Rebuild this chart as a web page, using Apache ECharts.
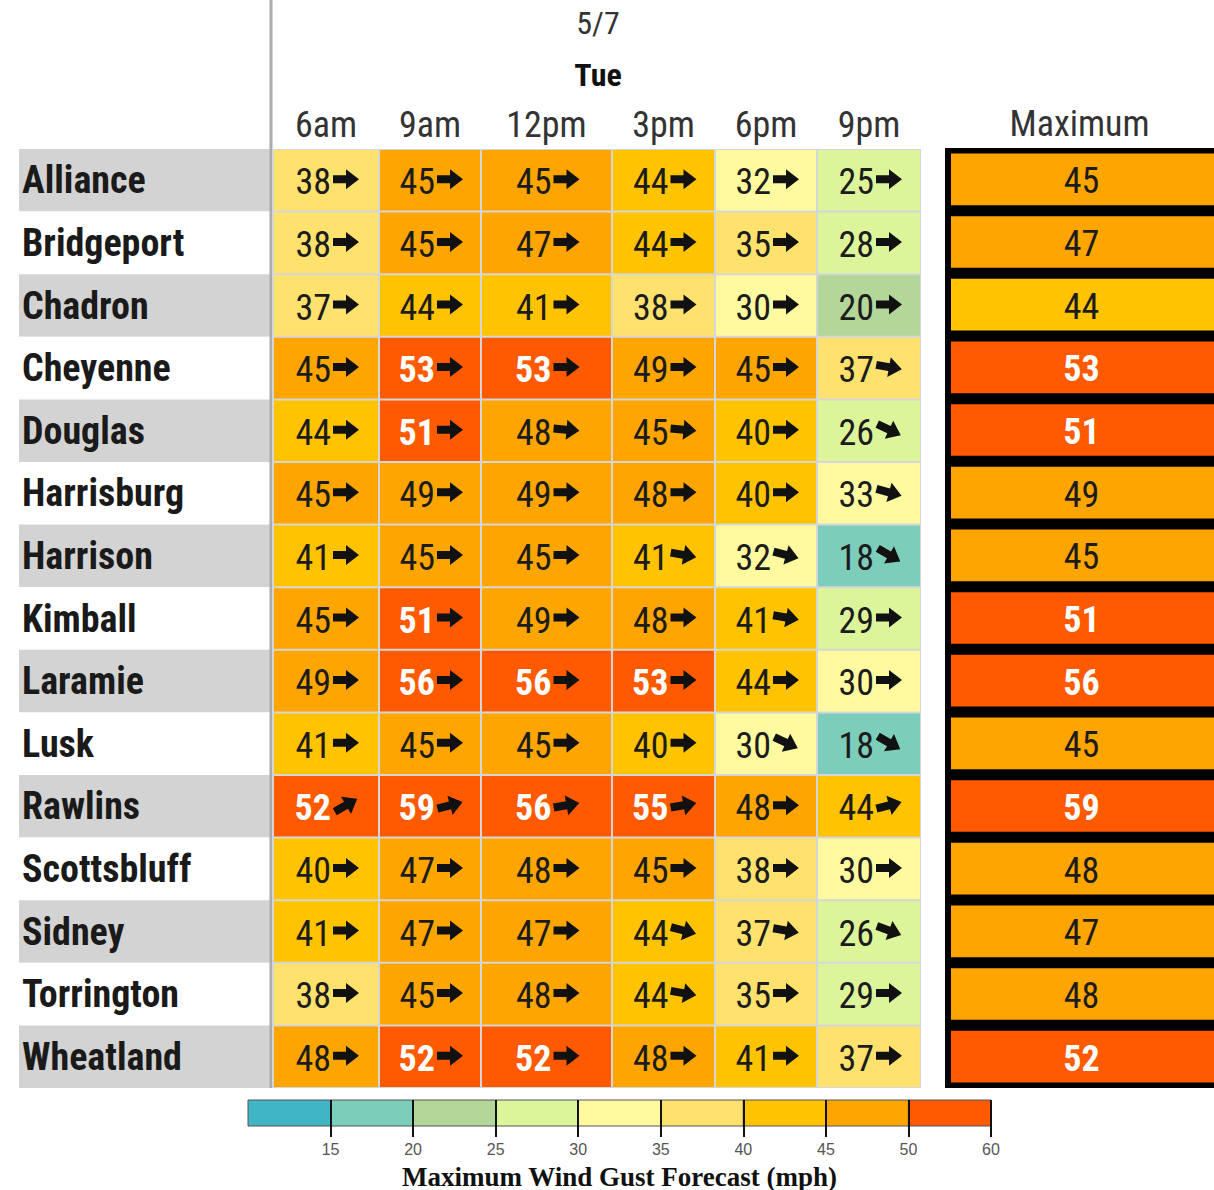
<!DOCTYPE html>
<html>
<head>
<meta charset="utf-8">
<script src="https://cdn.jsdelivr.net/npm/echarts@6/dist/echarts.min.js"></script>
<style>
html,body{margin:0;padding:0;background:#fff;}
#chart{width:1214px;height:1190px;}
</style>
</head>
<body>
<div id="chart"></div>
<script>
// ---------------- data ----------------
const cities = ['Alliance','Bridgeport','Chadron','Cheyenne','Douglas','Harrisburg','Harrison','Kimball','Laramie','Lusk','Rawlins','Scottsbluff','Sidney','Torrington','Wheatland'];
const times = ['6am','9am','12pm','3pm','6pm','9pm'];
const gust6am  = [38,38,37,45,44,45,41,45,49,41,52,40,41,38,48];
const gust9am  = [45,45,44,53,51,49,45,51,56,45,59,47,47,45,52];
const gust12pm = [45,47,41,53,48,49,45,49,56,45,56,48,47,48,52];
const gust3pm  = [44,44,38,49,45,48,41,48,53,40,55,45,44,44,48];
const gust6pm  = [32,35,30,45,40,40,32,41,44,30,48,38,37,35,41];
const gust9pm  = [25,28,20,37,26,33,18,29,30,18,44,30,26,29,37];
// arrow heading (compass degrees the arrow points to; 90 = east)
const head6am  = [90,90,90,90,90,90,90,90,90,90,60,90,90,90,90];
const head9am  = [90,90,90,90,90,90,90,90,90,90,75,90,90,90,90];
const head12pm = [90,90,90,90,95,90,90,90,90,90,80,90,90,90,90];
const head3pm  = [90,90,90,90,95,90,100,90,90,90,80,90,105,100,90];
const head6pm  = [90,90,90,90,90,90,105,100,90,115,90,90,100,90,90];
const head9pm  = [90,90,90,100,115,105,120,90,90,120,75,90,110,90,90];
const maxGust  = [45,47,44,53,51,49,45,51,56,45,59,48,47,48,52];
const legendBreaks = [10,15,20,25,30,35,40,45,50,60];
const legendColors = ['#3fb5c5','#7dcdbb','#b3d699','#ddf59a','#fffaa0','#ffe26e','#ffc300','#ffa500','#ff5a00'];
const legendTickLabels = ['','15','20','25','30','35','40','45','50','60'];
const dateLabel = '5/7';
const dayLabel = 'Tue';
const maxLabel = 'Maximum';
const legendTitle = 'Maximum Wind Gust Forecast (mph)';

// ---------------- layout (style) ----------------
// relative widths of the table columns (the 12pm column is wider in the original table)
const COL_WIDTHS = [106, 102, 131, 103, 102, 104];
const colEdges = [0];
COL_WIDTHS.forEach(w => colEdges.push(colEdges[colEdges.length - 1] + w));
const colCenters = COL_WIDTHS.map((w, i) => colEdges[i] + w / 2);
const colTotal = colEdges[colEdges.length - 1];

// ---------------- build ----------------
const gustCols = [gust6am, gust9am, gust12pm, gust3pm, gust6pm, gust9pm];
const headCols = [head6am, head9am, head12pm, head3pm, head6pm, head9pm];
const cellData = [];
gustCols.forEach((col, t) => col.forEach((v, c) => cellData.push([t, c, v, headCols[t][c]])));
const maxData = maxGust.map((v, c) => [0, c, v]);
const legendData = legendColors.map((col, i) => [i, i]);
const legendTickValues = legendTickLabels.map((l, i) => i).filter(i => legendTickLabels[i] !== '');

const pieces = legendColors.map((col, i) => {
  const p = { color: col };
  if (i > 0) p.gte = legendBreaks[i];
  if (i < legendColors.length - 1) p.lt = legendBreaks[i + 1];
  return p;
});

const FONT = "'Roboto Condensed','Liberation Sans Narrow','Arial Narrow','DejaVu Sans Condensed',Roboto,sans-serif";
const ARROW = 'M0 6 L13 6 L13 0 L26 10 L13 20 L13 14 L0 14 Z';

function renderCell(params, api) {
  const t = api.value(0), row = api.value(1), v = api.value(2), hd = api.value(3);
  const a = api.coord([colEdges[t], row]);
  const b = api.coord([colEdges[t + 1], row]);
  const h = api.size([0, 1])[1];
  const cx = (a[0] + b[0]) / 2, cy = a[1];
  const hot = v >= 50;
  return {
    type: 'group',
    children: [
      { type: 'rect', shape: { x: a[0] + 1, y: cy - h / 2 + 1, width: b[0] - a[0] - 2, height: h - 2 },
        style: { fill: api.visual('color') } },
      { type: 'text', x: cx + 5, y: cy + 2,
        style: { text: String(v), align: 'right', verticalAlign: 'middle',
          font: (hot ? 'bold ' : '') + '36px ' + FONT, fill: hot ? '#ffffff' : '#1c1c1c' } },
      { type: 'path', x: cx + 20, y: cy - 1, rotation: (90 - hd) * Math.PI / 180,
        shape: { pathData: ARROW, x: -13, y: -10, width: 26, height: 20 },
        style: { fill: '#111111' } }
    ]
  };
}

function renderMax(params, api) {
  const v = api.value(2);
  const c = api.coord([0, api.value(1)]);
  const s = api.size([1, 1]);
  const w = s[0], h = s[1];
  const hot = v >= 50;
  return {
    type: 'group',
    children: [
      { type: 'rect', shape: { x: c[0] - w / 2 + 6, y: c[1] - h / 2 + 5.5, width: w - 6, height: h - 11 },
        style: { fill: api.visual('color') } },
      { type: 'text', x: c[0] + 2, y: c[1] + 2,
        style: { text: String(v), align: 'center', verticalAlign: 'middle',
          font: (hot ? 'bold ' : '') + '36px ' + FONT, fill: hot ? '#ffffff' : '#1c1c1c' } }
    ]
  };
}

function renderLegend(params, api) {
  const i = api.value(0);
  const p0 = api.coord([i, 1]);
  const p1 = api.coord([i + 1, 0]);
  return {
    type: 'rect',
    shape: { x: p0[0], y: p0[1], width: p1[0] - p0[0], height: p1[1] - p0[1] },
    style: { fill: legendColors[api.value(1)], stroke: '#555', lineWidth: 1 }
  };
}

function nearestTime(v) {
  let best = 0;
  colCenters.forEach((c, i) => { if (Math.abs(c - v) < Math.abs(colCenters[best] - v)) best = i; });
  return times[best];
}

const chart = echarts.init(document.getElementById('chart'), null, { renderer: 'svg' });
chart.setOption({
  backgroundColor: '#ffffff',
  animation: false,
  title: [
    { text: dateLabel, left: 593, top: 2, textAlign: 'center',
      textStyle: { fontFamily: FONT, fontSize: 32, fontWeight: 'normal', color: '#333' } },
    { text: dayLabel, left: 593, top: 54, textAlign: 'center',
      textStyle: { fontFamily: FONT, fontSize: 32, fontWeight: 'bold', color: '#111' } }
  ],
  graphic: [
    { type: 'rect', shape: { x: 269.5, y: 0, width: 3, height: 1088 }, style: { fill: '#ababab' }, z: 10 }
  ],
  visualMap: {
    type: 'piecewise', show: false, dimension: 2, seriesIndex: [0, 1], pieces: pieces
  },
  grid: [
    { left: 19, top: 149, width: 251, height: 939, show: false, outerBoundsMode: 'none' },
    { left: 273, top: 149, width: 648, height: 939, show: true, backgroundColor: '#d4d6d8', borderWidth: 0, outerBoundsMode: 'none' },
    { left: 945, top: 148, width: 269, height: 940, show: true, backgroundColor: '#000000', borderWidth: 0, outerBoundsMode: 'none' },
    { left: 248, top: 1100, width: 743, height: 26, show: false, outerBoundsMode: 'none' }
  ],
  xAxis: [
    { gridIndex: 0, type: 'value', min: 0, max: 1, show: false },
    { gridIndex: 1, type: 'value', min: 0, max: colTotal, position: 'top',
      axisLine: { show: false }, axisTick: { show: false }, splitLine: { show: false },
      axisLabel: { customValues: colCenters, formatter: nearestTime,
        fontFamily: FONT, fontSize: 36, color: '#333', margin: 6 } },
    { gridIndex: 2, type: 'category', data: [maxLabel], position: 'top',
      axisLine: { show: false }, axisTick: { show: false },
      axisLabel: { fontFamily: FONT, fontSize: 36, color: '#333', margin: 6 } },
    { gridIndex: 3, type: 'value', min: 0, max: 9, interval: 1, position: 'bottom', z: 5,
      axisLine: { show: false },
      axisTick: { show: true, customValues: legendTickValues, length: 11, lineStyle: { color: '#111', width: 2 } },
      splitLine: { show: true, lineStyle: { color: '#111', width: 2 } },
      axisLabel: { show: true, customValues: legendTickValues, fontFamily: "'Liberation Sans',Arial,sans-serif",
        fontSize: 16, color: '#555', margin: 15,
        formatter: v => legendTickLabels[Math.round(v)] },
      name: legendTitle, nameLocation: 'middle', nameGap: 37, nameMoveOverlap: false,
      nameTextStyle: { fontFamily: "'Liberation Serif','Times New Roman',serif", fontWeight: 'bold', fontSize: 27, color: '#111' } }
  ],
  yAxis: [
    { gridIndex: 0, type: 'category', data: cities, inverse: true,
      axisLine: { show: false }, axisTick: { show: false },
      axisLabel: { inside: true, margin: 3, fontFamily: FONT, fontSize: 38, fontWeight: 'bold', color: '#1a1a1a' },
      splitArea: { show: true, areaStyle: { color: ['#d3d3d3', '#ffffff'] } },
      splitLine: { show: false } },
    { gridIndex: 1, type: 'category', data: cities, inverse: true, show: false },
    { gridIndex: 2, type: 'category', data: cities, inverse: true, show: false },
    { gridIndex: 3, type: 'value', min: 0, max: 1, show: false }
  ],
  series: [
    { type: 'custom', xAxisIndex: 1, yAxisIndex: 1, data: cellData, renderItem: renderCell,
      encode: { x: 0, y: 1 } },
    { type: 'custom', xAxisIndex: 2, yAxisIndex: 2, data: maxData, renderItem: renderMax,
      encode: { x: 0, y: 1 } },
    { type: 'custom', xAxisIndex: 3, yAxisIndex: 3, data: legendData, renderItem: renderLegend,
      encode: { x: 0 } }
  ]
});
</script>
</body>
</html>
